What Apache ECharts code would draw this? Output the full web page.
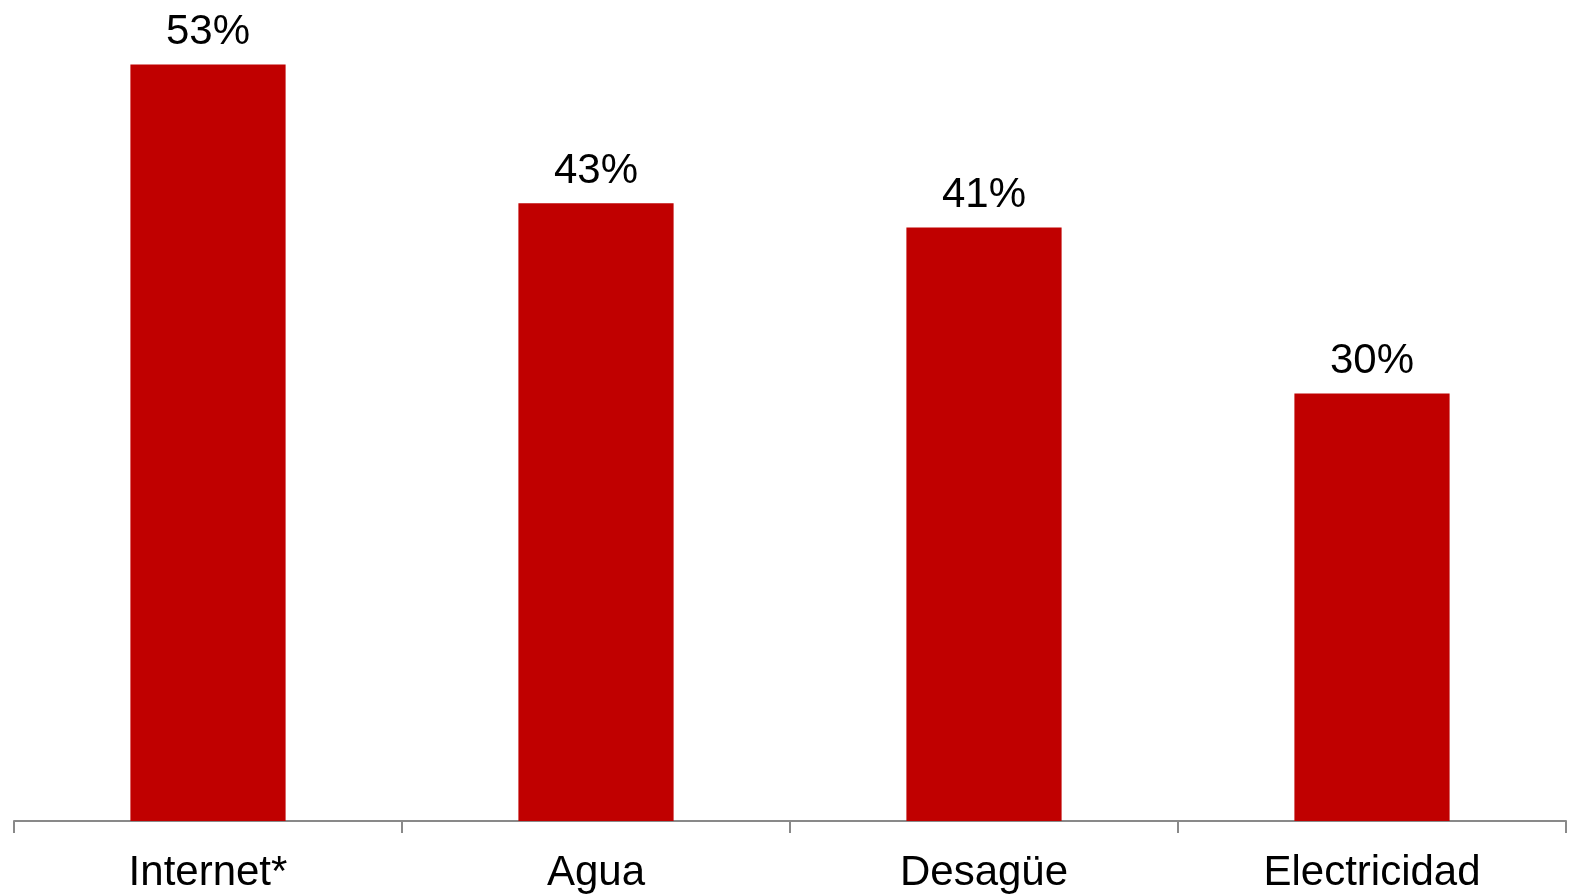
<!DOCTYPE html>
<html>
<head>
<meta charset="utf-8">
<script src="https://cdn.jsdelivr.net/npm/echarts@6/dist/echarts.min.js"></script>
<style>html,body{margin:0;padding:0;background:#fff}#c{width:1569px;height:896px}</style>
</head>
<body>
<div id="c"></div>
<script>
const categories = ['Internet*', 'Agua', 'Desagüe', 'Electricidad'];
const values = [52.9, 43.2, 41.5, 29.9];
const labels = ['53%', '43%', '41%', '30%'];

const chart = echarts.init(document.getElementById('c'));
chart.setOption({
  animation: false,
  grid: { left: 14, right: 3, top: 1, bottom: 75, containLabel: false, outerBoundsMode: 'none' },
  xAxis: {
    type: 'category',
    data: categories,
    axisLine: { lineStyle: { color: '#898989', width: 2 } },
    axisTick: { show: true, length: 12, lineStyle: { color: '#898989', width: 2 } },
    axisLabel: { fontFamily: 'Liberation Sans', fontSize: 42, color: '#000', margin: 31, verticalAlign: 'top', lineHeight: 42 }
  },
  yAxis: {
    type: 'value', min: 0, max: 57.34, show: false, splitLine: { show: false }
  },
  series: [{
    type: 'bar',
    data: values,
    barWidth: '40%',
    itemStyle: { color: '#C00000' },
    label: {
      show: true, position: 'top', distance: 11,
      fontFamily: 'Liberation Sans', fontSize: 42, color: '#000',
      formatter: p => labels[p.dataIndex]
    }
  }]
});
</script>
</body>
</html>
